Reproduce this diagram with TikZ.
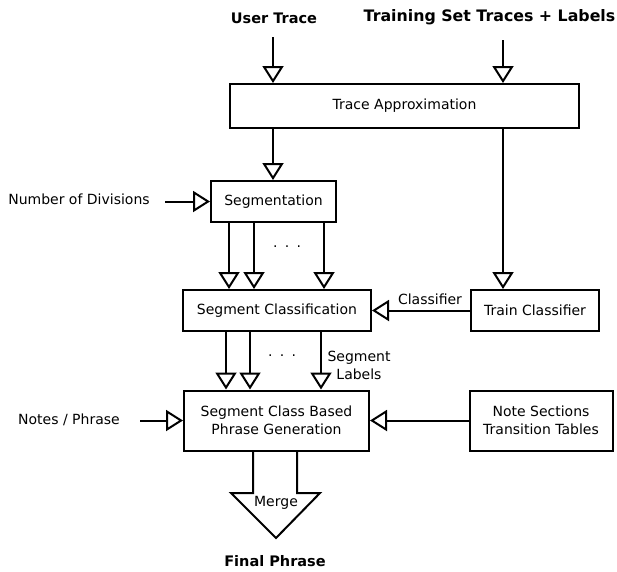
\documentclass[tikz,border=0pt]{standalone}
\usepackage{fontspec}
\setmainfont{DejaVu Sans}
\usetikzlibrary{arrows.meta}
\begin{document}
\begin{tikzpicture}[x=1pt,y=-1pt,
  box/.style={draw, line width=2pt, inner sep=0pt, align=center, font=\fontsize{14}{17.5}\selectfont},
  lbl/.style={inner sep=0pt, align=center, font=\fontsize{14}{18}\selectfont},
  ttl/.style={inner sep=0pt, font=\fontsize{14.5}{17}\selectfont\bfseries},
  flow/.style={line width=2pt, -{Triangle[open, width=21pt, length=17pt, line width=2pt]}},
]
\useasboundingbox (0,0) rectangle (617,571);
% boxes
\node[box, minimum width=349pt, minimum height=44pt] (ta) at (404.5,106) {Trace Approximation};
\node[box, minimum width=125pt, minimum height=41pt] (seg) at (273.5,201.5) {Segmentation};
\node[box, minimum width=188pt, minimum height=41pt] (sc) at (277,310.5) {Segment Classification};
\node[box, minimum width=128pt, minimum height=41pt] (tc) at (535,310.5) {Train Classifier};
\node[box, minimum width=185pt, minimum height=60pt] (pg) at (276.5,420.5) {Segment Class Based\\Phrase Generation};
\node[box, minimum width=143pt, minimum height=60pt] (ns) at (541,420.5) {Note Sections\\Transition Tables};
% titles and labels
\node[ttl] (ut) at (274,18) {User Trace};
\node[ttl, font=\fontsize{15.8}{18}\selectfont\bfseries] (tr) at (489.5,17) {Training Set Traces + Labels};
\node[lbl] (nd) at (79,199) {Number of Divisions};
\node[lbl] (np) at (69,420) {Notes / Phrase};
\node[lbl] (cl) at (430,299) {Classifier};
\node[lbl] (sl) at (359,365) {Segment\\Labels};
\node[lbl] (d1) at (287,247) {.\hskip7.3pt.\hskip7.3pt.};
\node[lbl] (d2) at (282,356) {.\hskip7.3pt.\hskip7.3pt.};
\node[lbl] (mg) at (276,503) {Merge};
\node[ttl] (fp) at (275,561) {Final Phrase};
% free ends
\coordinate (utS) at (273,37);
\coordinate (trS) at (503,40);
\coordinate (ndE) at (165,201.5);
\coordinate (npE) at (140,420.5);
% connectors
\draw[flow] (utS) -- (utS |- ta.north);
\draw[flow] (trS) -- (trS |- ta.north);
\draw[flow] ([xshift=-131.5pt]ta.south) -- ([xshift=-131.5pt]ta.south |- seg.north);
\draw[flow] ([xshift=98.5pt]ta.south) -- ([xshift=98.5pt]ta.south |- tc.north);
\draw[flow] (ndE) -- (seg.west);
\foreach \o in {-44.5,-19.5,50.5}
  \draw[flow] ([xshift=\o pt]seg.south) -- ([xshift=\o pt]seg.south |- sc.north);
\draw[flow] (tc.west) -- (sc.east);
\foreach \o in {-51,-27,44}
  \draw[flow] ([xshift=\o pt]sc.south) -- ([xshift=\o pt]sc.south |- pg.north);
\draw[flow] (npE) -- (pg.west);
\draw[flow] (ns.west) -- (pg.east);
% merge arrow
\coordinate (mL) at ([xshift=-23.5pt]pg.south);
\coordinate (mR) at ([xshift=20.5pt]pg.south);
\coordinate (mTip) at (276,538);
\draw[line width=2pt, line join=miter] (mL) -- (mL |- 0,493) -- (231,493) -- (mTip) -- (320,493) -- (mR |- 0,493) -- (mR);
\end{tikzpicture}
\end{document}
